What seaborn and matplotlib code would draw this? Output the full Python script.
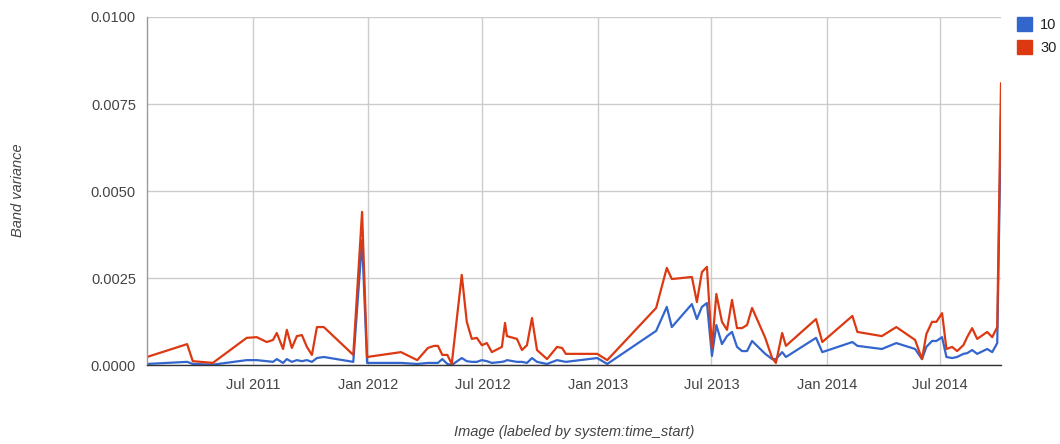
import pandas as pd
import numpy as np
import matplotlib
matplotlib.use("Agg")
import matplotlib.pyplot as plt
import matplotlib.dates as mdates
from matplotlib.patches import Patch
import seaborn as sns

# Acquisition dates (system:time_start)
dates = [
    "2011-01-13", "2011-03-18", "2011-03-27", "2011-04-28", "2011-06-21",
    "2011-07-07", "2011-07-23", "2011-08-02", "2011-08-08", "2011-08-18",
    "2011-08-24", "2011-09-01", "2011-09-09", "2011-09-17", "2011-09-25",
    "2011-10-03", "2011-10-11", "2011-10-22", "2011-12-08", "2011-12-22",
    "2011-12-30", "2012-02-22", "2012-03-19", "2012-04-05", "2012-04-15",
    "2012-04-21", "2012-04-28", "2012-05-06", "2012-05-13", "2012-05-29",
    "2012-06-06", "2012-06-14", "2012-06-22", "2012-06-30", "2012-07-08",
    "2012-07-16", "2012-08-01", "2012-08-06", "2012-08-09", "2012-08-25",
    "2012-09-02", "2012-09-10", "2012-09-18", "2012-09-26", "2012-10-12",
    "2012-10-28", "2012-11-05", "2012-11-11", "2012-12-31", "2013-01-16",
    "2013-04-04", "2013-04-21", "2013-04-29", "2013-05-31", "2013-06-08",
    "2013-06-16", "2013-06-24", "2013-07-02", "2013-07-09", "2013-07-18",
    "2013-07-26", "2013-08-03", "2013-08-11", "2013-08-19", "2013-08-27",
    "2013-09-04", "2013-09-25", "2013-10-06", "2013-10-12", "2013-10-22",
    "2013-10-28", "2013-12-15", "2013-12-25", "2014-02-11", "2014-02-19",
    "2014-03-30", "2014-04-22", "2014-05-22", "2014-06-02", "2014-06-09",
    "2014-06-18", "2014-06-25", "2014-07-04", "2014-07-11", "2014-07-20",
    "2014-07-28", "2014-08-07", "2014-08-13", "2014-08-21", "2014-08-29",
    "2014-09-14", "2014-09-22", "2014-09-30", "2014-10-06",
]

# Band variance, scale 10
var_10 = [
    0.00003, 0.00009, 0.00003, 0.00001, 0.00014,
    0.00014, 0.00011, 0.00009, 0.00017, 0.00006,
    0.00017, 0.00009, 0.00014, 0.00011, 0.00014,
    0.00009, 0.00020, 0.00023, 0.00009, 0.00359,
    0.00006, 0.00006, 0.00003, 0.00006, 0.00006,
    0.00006, 0.00017, 0.00003, 0.00000, 0.00020,
    0.00011, 0.00009, 0.00009, 0.00014, 0.00011,
    0.00006, 0.00009, 0.00011, 0.00014, 0.00009,
    0.00009, 0.00006, 0.00020, 0.00009, 0.00003,
    0.00014, 0.00011, 0.00009, 0.00020, 0.00003,
    0.00098, 0.00167, 0.00109, 0.00175, 0.00132,
    0.00167, 0.00178, 0.00026, 0.00115, 0.00060,
    0.00083, 0.00095, 0.00052, 0.00040, 0.00040,
    0.00069, 0.00032, 0.00017, 0.00017, 0.00037,
    0.00023, 0.00078, 0.00037, 0.00066, 0.00055,
    0.00046, 0.00063, 0.00046, 0.00017, 0.00052,
    0.00069, 0.00069, 0.00080, 0.00023, 0.00020,
    0.00023, 0.00032, 0.00034, 0.00043, 0.00032,
    0.00046, 0.00037, 0.00063, 0.00718,
]

# Band variance, scale 30
var_30 = [
    0.00023, 0.00060, 0.00011, 0.00006, 0.00078,
    0.00080, 0.00066, 0.00072, 0.00092, 0.00046,
    0.00101, 0.00049, 0.00083, 0.00086, 0.00052,
    0.00029, 0.00109, 0.00109, 0.00029, 0.00440,
    0.00023, 0.00037, 0.00014, 0.00049, 0.00055,
    0.00055, 0.00029, 0.00029, 0.00003, 0.00259,
    0.00124, 0.00075, 0.00078, 0.00057, 0.00063,
    0.00037, 0.00052, 0.00121, 0.00083, 0.00075,
    0.00043, 0.00057, 0.00135, 0.00043, 0.00017,
    0.00052, 0.00049, 0.00032, 0.00032, 0.00014,
    0.00164, 0.00279, 0.00247, 0.00253, 0.00181,
    0.00267, 0.00282, 0.00049, 0.00204, 0.00124,
    0.00101, 0.00187, 0.00106, 0.00106, 0.00115,
    0.00164, 0.00078, 0.00020, 0.00006, 0.00092,
    0.00055, 0.00132, 0.00066, 0.00141, 0.00095,
    0.00083, 0.00109, 0.00072, 0.00017, 0.00089,
    0.00124, 0.00124, 0.00149, 0.00046, 0.00052,
    0.00040, 0.00057, 0.00080, 0.00106, 0.00075,
    0.00095, 0.00080, 0.00109, 0.00810,
]

series_names = ["10", "30"]
series_colors = ["#3366cc", "#dc3912"]
y_ticks = [0.0, 0.0025, 0.005, 0.0075, 0.01]
x_ticks = ["2011-07-01", "2012-01-01", "2012-07-01", "2013-01-01",
           "2013-07-01", "2014-01-01", "2014-07-01"]

dt = pd.to_datetime(dates)
df = pd.concat([
    pd.DataFrame({"time": dt, "variance": var_10, "scale": series_names[0]}),
    pd.DataFrame({"time": dt, "variance": var_30, "scale": series_names[1]}),
], ignore_index=True)

sns.set_theme(style="white")
plt.rcParams["font.family"] = ["Liberation Sans", "DejaVu Sans"]

W, H = 1060, 444
fig = plt.figure(figsize=(W / 100, H / 100), dpi=100)
ax = fig.add_axes([147 / W, 1 - 365 / H, (1001 - 147) / W, (365 - 17) / H])

sns.lineplot(data=df, x="time", y="variance", hue="scale",
             palette=dict(zip(series_names, series_colors)),
             linewidth=1.6, ax=ax, legend=False, estimator=None, sort=True)

ax.set_xlim(dt.min(), dt.max())
ax.set_ylim(0, 0.01)
ax.set_yticks(y_ticks)
ax.set_yticklabels([f"{v:.4f}" for v in y_ticks])
ax.set_xticks(pd.to_datetime(x_ticks))
ax.xaxis.set_major_formatter(mdates.DateFormatter("%b %Y"))

ax.grid(True, color="#cccccc", linewidth=1)
ax.set_axisbelow(True)
for side in ["top", "right"]:
    ax.spines[side].set_visible(False)
ax.spines["left"].set_color("#999999")
ax.spines["left"].set_linewidth(1)
ax.spines["bottom"].set_color("#333333")
ax.spines["bottom"].set_linewidth(1)
ax.spines["bottom"].set_zorder(5)
ax.tick_params(axis="both", length=0, colors="#444444", labelsize=10.5)
ax.tick_params(axis="x", pad=9)
ax.tick_params(axis="y", pad=8)

ax.set_xlabel("")
ax.set_ylabel("")
fig.text((147 + 1001) / 2 / W, 1 - 432 / H, "Image (labeled by system:time_start)",
         ha="center", va="center", fontstyle="italic", color="#444444",
         fontsize=10.5)
fig.text(18 / W, 1 - 190 / H, "Band variance", ha="center", va="center",
         rotation=90, fontstyle="italic", color="#444444", fontsize=10.5)

handles = [Patch(facecolor=c, edgecolor=c) for c in series_colors]
fig.legend(handles, series_names, loc="upper left",
           bbox_to_anchor=(1017 / W, 1 - 17 / H), frameon=False,
           fontsize=10.5, handlelength=1.05, handleheight=1.05,
           handletextpad=0.55, labelspacing=0.6, labelcolor="#222222",
           borderaxespad=0, borderpad=0)

fig.savefig("out.png", dpi=100)
